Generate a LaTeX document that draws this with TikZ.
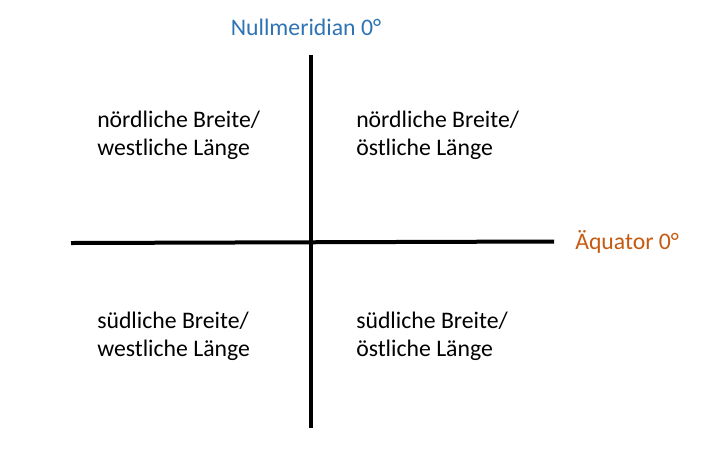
\documentclass[tikz,border=0pt]{standalone}
\usepackage{fontspec}
\setmainfont{Carlito}
\definecolor{titleblue}{HTML}{2E74B5}
\definecolor{eqorange}{HTML}{C55A11}
\begin{document}
\begin{tikzpicture}[x=0.75pt,y=-0.75pt,
  axis/.style={line width=3pt},
  lbl/.style={inner sep=0pt,anchor=base west,align=left,font=\fontsize{17.8}{21}\selectfont},
  ttl/.style={inner sep=0pt,anchor=base,font=\fontsize{17.8}{21}\selectfont}]
\useasboundingbox (0,0) rectangle (727,451);
\coordinate (vt) at (311,55);
\coordinate (vb) at (311,428);
\coordinate (hl) at (71,243);
\coordinate (hr) at (554,241.5);
\draw[axis] (vt) -- (vb);
\draw[axis] (hl) -- (hr);
\node[ttl,text=titleblue] (mer) at (306,35) {Nullmeridian 0°};
\node[ttl,text=eqorange,anchor=base west] (aeq) at (575,249) {Äquator 0°};
\node[lbl] (nw) at (97,155) {nördliche Breite/\\westliche Länge};
\node[lbl] (ne) at (356,155) {nördliche Breite/\\östliche Länge};
\node[lbl] (sw) at (97,356) {südliche Breite/\\westliche Länge};
\node[lbl] (se) at (356,356) {südliche Breite/\\östliche Länge};
\end{tikzpicture}
\end{document}
